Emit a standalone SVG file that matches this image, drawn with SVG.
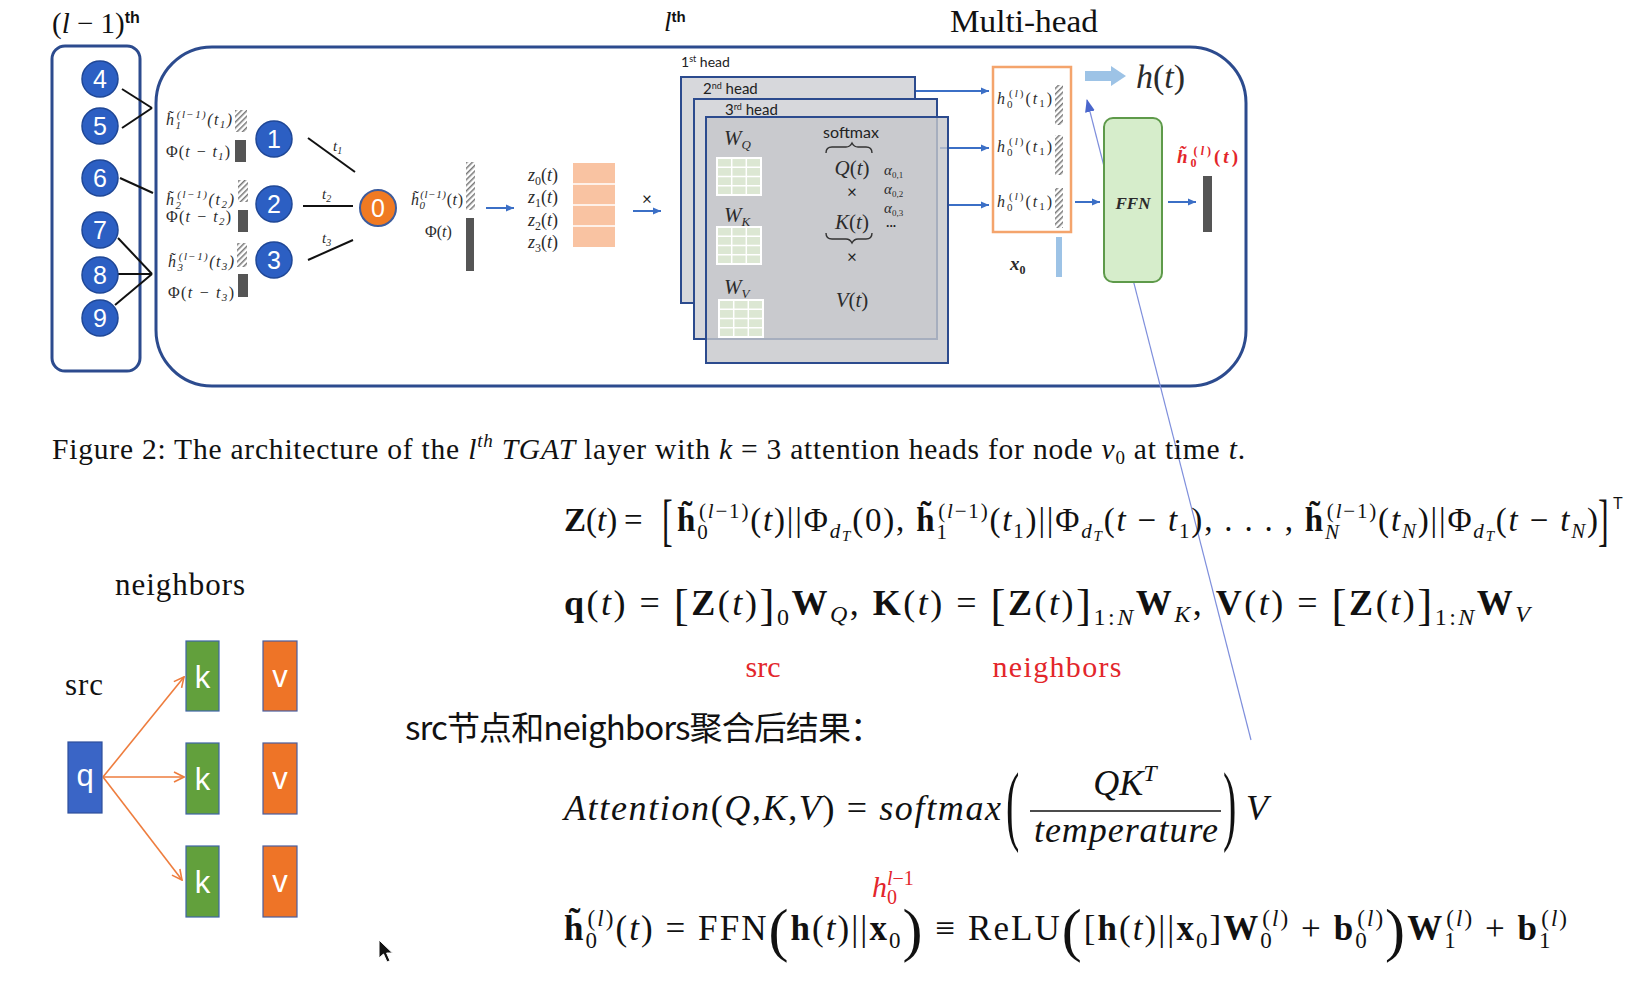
<svg xmlns="http://www.w3.org/2000/svg" width="1638" height="984" viewBox="0 0 1638 984">
<defs>
<style>
.tx{font-family:"Liberation Serif","Times New Roman",serif;fill:#111}
.b{font-weight:700}
.i{font-style:italic}
.lb{font-family:"Liberation Serif","Times New Roman",serif;font-style:italic;fill:#2b2b2b}
.sf{font-family:"Lato","Liberation Sans",sans-serif;fill:#222}
.num{font-family:"Liberation Sans",Arial,sans-serif;font-size:25px;fill:#fff;text-anchor:middle}
.node{fill:#2c5fc3;stroke:#1f4796;stroke-width:1.5}
.edge{stroke:#111;stroke-width:2;fill:none}
.barrow{stroke:#3b6fc6;stroke-width:2;fill:none;marker-end:url(#ab)}
.oarrow{stroke:#ee7d3e;stroke-width:1.6;fill:none;marker-end:url(#ao)}
.hatch{fill:url(#hp)}
.dark{fill:#555}
.head{fill:#d7d8dc;stroke:#2c4b8e;stroke-width:2}
.box{fill:none;stroke:#2c4b8e;stroke-width:3}
.let{font-family:"Liberation Sans",Arial,sans-serif;font-size:31px;fill:#fff;text-anchor:middle}
.red{fill:#e3262b}
</style>
<pattern id="hp" width="4" height="4" patternUnits="userSpaceOnUse" patternTransform="rotate(45)"><rect width="4" height="4" fill="#fff"/><rect width="1.5" height="4" fill="#777"/></pattern>
<marker id="ab" markerUnits="userSpaceOnUse" markerWidth="9" markerHeight="8" refX="8" refY="4" orient="auto"><path d="M0,0.5 L8,4 L0,7.5 z" fill="#3b6fc6"/></marker>
<marker id="ao" markerUnits="userSpaceOnUse" markerWidth="12" markerHeight="12" refX="11" refY="6" orient="auto"><path d="M1,1 L11,6 L1,11" fill="none" stroke="#ee7d3e" stroke-width="1.6"/></marker>
<marker id="athin" markerUnits="userSpaceOnUse" markerWidth="14" markerHeight="10" refX="12" refY="5" orient="auto"><path d="M0,0 L13,5 L0,10 z" fill="#4a66cc"/></marker>
<g id="grid"><rect width="44" height="37" fill="#dce7d3"/><path d="M14.7,0V37M29.3,0V37M0,9.25H44M0,18.5H44M0,27.75H44" stroke="#fff" stroke-width="1.5"/><rect width="44" height="37" fill="none" stroke="#fff" stroke-width="2"/></g>
</defs>
<rect width="1638" height="984" fill="#fff"/>

<!-- titles -->
<text class="tx" x="52" y="33" font-size="29">(<tspan class="i">l</tspan> − 1)<tspan font-family="Liberation Sans,Arial,sans-serif" font-size="16" font-weight="700" baseline-shift="10">th</tspan></text>
<text class="tx" x="664" y="31" font-size="27"><tspan class="i">l</tspan><tspan font-family="Liberation Sans,Arial,sans-serif" font-size="15" font-weight="700" baseline-shift="9">th</tspan></text>
<text class="tx" x="950" y="32" font-size="32" textLength="148" lengthAdjust="spacingAndGlyphs">Multi-head</text>

<!-- containers -->
<rect class="box" x="52" y="46" width="88" height="325" rx="13"/>
<rect class="box" x="156" y="47" width="1090" height="339" rx="56"/>

<g id="connectors">
<line class="edge" x1="122" y1="89" x2="152" y2="108"/>
<line class="edge" x1="122" y1="128" x2="152" y2="108"/>
<line class="edge" x1="120" y1="178" x2="153" y2="193"/>
<line class="edge" x1="118" y1="238" x2="152" y2="274"/>
<line class="edge" x1="118" y1="274" x2="152" y2="274"/>
<line class="edge" x1="115" y1="305" x2="152" y2="274"/>
<line class="edge" x1="308" y1="138" x2="355" y2="172"/>
<line class="edge" x1="303" y1="206" x2="353" y2="206"/>
<line class="edge" x1="308" y1="260" x2="353" y2="240"/>
<line class="barrow" x1="486" y1="208" x2="514" y2="208"/>
<line class="barrow" x1="633" y1="211" x2="661" y2="211"/>
<line class="barrow" x1="778" y1="167" x2="804" y2="167"/>
<line class="barrow" x1="778" y1="227" x2="804" y2="227"/>
<line class="barrow" x1="778" y1="298" x2="804" y2="298"/>
<line class="barrow" x1="915" y1="91" x2="989" y2="91"/>
<line class="barrow" x1="940" y1="148" x2="989" y2="148"/>
<line class="barrow" x1="948" y1="205" x2="989" y2="205"/>
<line class="barrow" x1="1075" y1="202" x2="1100" y2="202"/>
<line class="barrow" x1="1168" y1="202" x2="1196" y2="202"/>
<polygon points="1085,71 1111,71 1111,66 1126,76 1111,86 1111,81 1085,81" fill="#9dc3e6"/>
<line x1="1251" y1="740" x2="1087" y2="100" stroke="#7f8fdc" stroke-width="1.2" marker-end="url(#athin)"/>
<line class="oarrow" x1="103" y1="777" x2="184" y2="677"/>
<line class="oarrow" x1="103" y1="777" x2="184" y2="777"/>
<line class="oarrow" x1="103" y1="777" x2="182" y2="880"/>
</g>

<!-- (l-1) layer nodes -->
<g id="n4"><circle class="node" cx="100" cy="79" r="18"/><text class="num" x="100" y="88">4</text></g>
<g id="n5"><circle class="node" cx="100" cy="126" r="18"/><text class="num" x="100" y="135">5</text></g>
<g id="n6"><circle class="node" cx="100" cy="178" r="18"/><text class="num" x="100" y="187">6</text></g>
<g id="n7"><circle class="node" cx="100" cy="230" r="18"/><text class="num" x="100" y="239">7</text></g>
<g id="n8"><circle class="node" cx="100" cy="275" r="18"/><text class="num" x="100" y="284">8</text></g>
<g id="n9"><circle class="node" cx="100" cy="318" r="18"/><text class="num" x="100" y="327">9</text></g>

<!-- neighbor features -->
<g id="feat1">
<text class="lb" x="166" y="125" font-size="16" textLength="66">h̃<tspan font-size="11" baseline-shift="-4">1</tspan><tspan font-size="11" dx="-5.5" baseline-shift="7">(l−1)</tspan>(t<tspan font-size="11" baseline-shift="-3">1</tspan>)</text>
<rect class="hatch" x="235" y="110" width="12" height="22"/>
<text class="lb" x="166" y="157" font-size="16" textLength="64"><tspan font-style="normal">Φ(</tspan>t − t<tspan font-size="11" baseline-shift="-3">1</tspan><tspan font-style="normal">)</tspan></text>
<rect class="dark" x="235" y="140" width="11" height="22"/>
</g>
<g id="feat2">
<text class="lb" x="166" y="205" font-size="16" textLength="68">h̃<tspan font-size="11" baseline-shift="-4">2</tspan><tspan font-size="11" dx="-5.5" baseline-shift="7">(l−1)</tspan>(t<tspan font-size="11" baseline-shift="-3">2</tspan>)</text>
<rect class="hatch" x="238" y="180" width="10" height="22"/>
<text class="lb" x="166" y="222" font-size="16" textLength="65"><tspan font-style="normal">Φ(</tspan>t − t<tspan font-size="11" baseline-shift="-3">2</tspan><tspan font-style="normal">)</tspan></text>
<rect class="dark" x="238" y="210" width="10" height="22"/>
</g>
<g id="feat3">
<text class="lb" x="168" y="267" font-size="16" textLength="66">h̃<tspan font-size="11" baseline-shift="-4">3</tspan><tspan font-size="11" dx="-5.5" baseline-shift="7">(l−1)</tspan>(t<tspan font-size="11" baseline-shift="-3">3</tspan>)</text>
<rect class="hatch" x="237" y="243" width="10" height="24"/>
<text class="lb" x="168" y="298" font-size="16" textLength="66"><tspan font-style="normal">Φ(</tspan>t − t<tspan font-size="11" baseline-shift="-3">3</tspan><tspan font-style="normal">)</tspan></text>
<rect class="dark" x="238" y="274" width="10" height="23"/>
</g>

<!-- layer l nodes -->
<g id="n1"><circle class="node" cx="274" cy="139" r="18"/><text class="num" x="274" y="148">1</text></g>
<g id="n2"><circle class="node" cx="274" cy="204" r="18"/><text class="num" x="274" y="213">2</text></g>
<g id="n3"><circle class="node" cx="274" cy="260" r="18"/><text class="num" x="274" y="269">3</text></g>
<text class="lb" x="333" y="151" font-size="15">t<tspan font-size="10" baseline-shift="-3">1</tspan></text>
<text class="lb" x="322" y="199" font-size="15">t<tspan font-size="10" baseline-shift="-3">2</tspan></text>
<text class="lb" x="322" y="243" font-size="15">t<tspan font-size="10" baseline-shift="-3">3</tspan></text>
<g id="n0"><circle cx="378" cy="208" r="18" fill="#f07a22" stroke="#3d5c9c" stroke-width="2"/><text class="num" x="378" y="217">0</text></g>

<g id="feat0">
<text class="lb" x="411" y="205" font-size="16" textLength="52">h̃<tspan font-size="11" baseline-shift="-4">0</tspan><tspan font-size="11" dx="-5.5" baseline-shift="7">(l−1)</tspan><tspan font-style="normal">(</tspan>t<tspan font-style="normal">)</tspan></text>
<rect class="hatch" x="466" y="162" width="9" height="48"/>
<text class="lb" x="425" y="237" font-size="16"><tspan font-style="normal">Φ(</tspan>t<tspan font-style="normal">)</tspan></text>
<rect class="dark" x="466" y="218" width="8" height="53"/>
</g>

<g id="zmatrix">
<text class="lb" x="528" y="181" font-size="18">z<tspan font-size="12" baseline-shift="-4" font-style="normal">0</tspan><tspan font-style="normal">(</tspan>t<tspan font-style="normal">)</tspan></text>
<text class="lb" x="528" y="203" font-size="18">z<tspan font-size="12" baseline-shift="-4" font-style="normal">1</tspan><tspan font-style="normal">(</tspan>t<tspan font-style="normal">)</tspan></text>
<text class="lb" x="528" y="226" font-size="18">z<tspan font-size="12" baseline-shift="-4" font-style="normal">2</tspan><tspan font-style="normal">(</tspan>t<tspan font-style="normal">)</tspan></text>
<text class="lb" x="528" y="248" font-size="18">z<tspan font-size="12" baseline-shift="-4" font-style="normal">3</tspan><tspan font-style="normal">(</tspan>t<tspan font-style="normal">)</tspan></text>
<rect x="573" y="163" width="42" height="84" fill="#f9c3a2"/>
<path d="M573,184H615M573,205H615M573,226H615" stroke="#fff" stroke-width="1.5"/>
<text class="sf" x="647" y="205" font-size="17" text-anchor="middle">×</text>
</g>

<!-- heads -->
<g id="head1">
<text class="sf" x="681" y="67" font-size="14">1<tspan font-size="9" baseline-shift="5">st</tspan> head</text>
<rect class="head" x="681" y="77" width="234" height="226"/>
</g>
<g id="head2">
<text class="sf" x="703" y="94" font-size="15">2<tspan font-size="9" baseline-shift="5">nd</tspan>  head</text>
<rect class="head" x="694" y="99" width="243" height="240"/>
</g>
<g id="head3">
<text class="sf" x="725" y="115" font-size="15">3<tspan font-size="9" baseline-shift="5">rd</tspan> head</text>
<rect x="706" y="117" width="242" height="246" fill="#c6c7cb" fill-opacity="0.8" stroke="#2c4b8e" stroke-width="2"/>
<text class="lb" x="724" y="145" font-size="21">W<tspan font-size="13" baseline-shift="-4">Q</tspan></text>
<use href="#grid" x="717" y="158"/>
<text class="lb" x="724" y="222" font-size="21">W<tspan font-size="13" baseline-shift="-4">K</tspan></text>
<use href="#grid" x="717" y="227"/>
<text class="lb" x="724" y="294" font-size="21">W<tspan font-size="13" baseline-shift="-4">V</tspan></text>
<use href="#grid" x="719" y="300"/>
<text class="sf" x="851" y="138" font-size="16" text-anchor="middle">softmax</text>
<path d="M826,153 Q826,147 832,147 L846,147 Q850,147 852,143 Q854,147 858,147 L866,147 Q872,147 872,153" fill="none" stroke="#333" stroke-width="1.4"/>
<text class="lb" x="852" y="175" font-size="21" text-anchor="middle">Q<tspan font-style="normal">(</tspan>t<tspan font-style="normal">)</tspan></text>
<text class="sf" x="852" y="198" font-size="17" text-anchor="middle">×</text>
<text class="lb" x="852" y="229" font-size="21" text-anchor="middle">K<tspan font-style="normal">(</tspan>t<tspan font-style="normal">)</tspan></text>
<path d="M826,233 Q826,239 832,239 L846,239 Q850,239 852,243 Q854,239 858,239 L866,239 Q872,239 872,233" fill="none" stroke="#333" stroke-width="1.4"/>
<text class="sf" x="852" y="263" font-size="17" text-anchor="middle">×</text>
<text class="lb" x="852" y="307" font-size="21" text-anchor="middle">V<tspan font-style="normal">(</tspan>t<tspan font-style="normal">)</tspan></text>
<text class="lb" x="884" y="175" font-size="15" fill="#555">α<tspan font-size="9" font-style="normal" baseline-shift="-3">0,1</tspan></text>
<text class="lb" x="884" y="194" font-size="15" fill="#555">α<tspan font-size="9" font-style="normal" baseline-shift="-3">0,2</tspan></text>
<text class="lb" x="884" y="213" font-size="15" fill="#555">α<tspan font-size="9" font-style="normal" baseline-shift="-3">0,3</tspan></text>
<text class="sf" x="886" y="230" font-size="13" fill="#555">···</text>
</g>

<g id="concat">
<rect x="993" y="67" width="78" height="165" fill="#fff" stroke="#f4a46c" stroke-width="2.5"/>
<text class="lb" x="997" y="104" font-size="16" textLength="55">h<tspan font-size="11" font-style="normal" baseline-shift="-4">0</tspan><tspan font-size="11" dx="-5.5" baseline-shift="7"><tspan font-style="normal">(</tspan>l<tspan font-style="normal">)</tspan></tspan><tspan font-style="normal">(</tspan>t<tspan font-size="11" font-style="normal" baseline-shift="-3">1</tspan><tspan font-style="normal">)</tspan></text>
<text class="lb" x="997" y="152" font-size="16" textLength="55">h<tspan font-size="11" font-style="normal" baseline-shift="-4">0</tspan><tspan font-size="11" dx="-5.5" baseline-shift="7"><tspan font-style="normal">(</tspan>l<tspan font-style="normal">)</tspan></tspan><tspan font-style="normal">(</tspan>t<tspan font-size="11" font-style="normal" baseline-shift="-3">1</tspan><tspan font-style="normal">)</tspan></text>
<text class="lb" x="997" y="207" font-size="16" textLength="55">h<tspan font-size="11" font-style="normal" baseline-shift="-4">0</tspan><tspan font-size="11" dx="-5.5" baseline-shift="7"><tspan font-style="normal">(</tspan>l<tspan font-style="normal">)</tspan></tspan><tspan font-style="normal">(</tspan>t<tspan font-size="11" font-style="normal" baseline-shift="-3">1</tspan><tspan font-style="normal">)</tspan></text>
<rect class="hatch" x="1055" y="85" width="8" height="40"/>
<rect class="hatch" x="1055" y="135" width="8" height="40"/>
<rect class="hatch" x="1055" y="188" width="8" height="40"/>
<rect x="1056" y="237" width="6" height="40" fill="#9dc3e6"/>
<text class="lb b" x="1010" y="270" font-size="19">x<tspan font-size="12" font-style="normal" baseline-shift="-4">0</tspan></text>
</g>

<text class="lb" x="1136" y="88" font-size="34" fill="#111">h<tspan font-style="normal">(</tspan>t<tspan font-style="normal">)</tspan></text>

<g id="ffn">
<rect x="1104" y="118" width="58" height="164" rx="9" fill="#d6edcb" stroke="#5e9a4a" stroke-width="2"/>
<text class="lb b" x="1133" y="209" font-size="17" text-anchor="middle">FFN</text>
</g>
<g id="out">
<text class="lb b red" x="1177" y="163" font-size="19" textLength="61">h̃<tspan font-size="12" font-style="normal" baseline-shift="-4">0</tspan><tspan font-size="12" dx="-6" baseline-shift="8"><tspan font-style="normal">(</tspan>l<tspan font-style="normal">)</tspan></tspan><tspan font-style="normal">(</tspan>t<tspan font-style="normal">)</tspan></text>
<rect class="dark" x="1203" y="176" width="9" height="56"/>
</g>

<!-- caption -->
<text class="tx" x="52" y="459" font-size="29.5" textLength="1193" lengthAdjust="spacing">Figure 2: The architecture of the <tspan class="i">l</tspan><tspan class="i" font-size="19" baseline-shift="12">th</tspan> <tspan class="i">TGAT</tspan> layer with <tspan class="i">k</tspan> = 3 attention heads for node <tspan class="i">v</tspan><tspan font-size="19" baseline-shift="-5">0</tspan> at time <tspan class="i">t</tspan>.</text>

<!-- formula Z -->
<g id="eqZ">
<text class="tx" x="564" y="531" font-size="33"><tspan class="b">Z</tspan>(<tspan class="i">t</tspan>)<tspan x="624">=</tspan></text>
<text class="tx" font-size="32" transform="translate(662,539) scale(1,1.8)">[</text>
<text class="tx" x="677" y="531" font-size="33" textLength="921" lengthAdjust="spacing"><tspan class="b">h̃</tspan><tspan font-size="21" baseline-shift="-8">0</tspan><tspan font-size="21" dx="-10.5" baseline-shift="13">(<tspan class="i">l</tspan>−1)</tspan>(<tspan class="i">t</tspan>)||Φ<tspan font-size="21" baseline-shift="-7"><tspan class="i">d</tspan><tspan class="i" font-size="15" baseline-shift="-3">T</tspan></tspan>(0), <tspan class="b">h̃</tspan><tspan font-size="21" baseline-shift="-8">1</tspan><tspan font-size="21" dx="-10.5" baseline-shift="13">(<tspan class="i">l</tspan>−1)</tspan>(<tspan class="i">t</tspan><tspan font-size="21" baseline-shift="-7">1</tspan>)||Φ<tspan font-size="21" baseline-shift="-7"><tspan class="i">d</tspan><tspan class="i" font-size="15" baseline-shift="-3">T</tspan></tspan>(<tspan class="i">t</tspan> − <tspan class="i">t</tspan><tspan font-size="21" baseline-shift="-7">1</tspan>), . . . , <tspan class="b">h̃</tspan><tspan class="i" font-size="21" baseline-shift="-8">N</tspan><tspan font-size="21" dx="-14" baseline-shift="13">(<tspan class="i">l</tspan>−1)</tspan>(<tspan class="i">t</tspan><tspan class="i" font-size="21" baseline-shift="-7">N</tspan>)||Φ<tspan font-size="21" baseline-shift="-7"><tspan class="i">d</tspan><tspan class="i" font-size="15" baseline-shift="-3">T</tspan></tspan>(<tspan class="i">t</tspan> − <tspan class="i">t</tspan><tspan class="i" font-size="21" baseline-shift="-7">N</tspan>)</text>
<text class="tx" font-size="32" transform="translate(1598,539) scale(1,1.8)">]</text>
<text x="1613" y="509" font-family="Liberation Sans,Arial,sans-serif" font-size="16" fill="#111">T</text>
</g>

<!-- formula qKV -->
<g id="eqQKV">
<text class="tx" x="564" y="615" font-size="36" textLength="966" lengthAdjust="spacing"><tspan class="b">q</tspan>(<tspan class="i">t</tspan>) = <tspan font-size="45" baseline-shift="-5">[</tspan><tspan class="b">Z</tspan>(<tspan class="i">t</tspan>)<tspan font-size="45" baseline-shift="-5">]</tspan><tspan font-size="24" baseline-shift="-10">0</tspan><tspan class="b">W</tspan><tspan class="i" font-size="24" baseline-shift="-7">Q</tspan>, <tspan class="b">K</tspan>(<tspan class="i">t</tspan>) = <tspan font-size="45" baseline-shift="-5">[</tspan><tspan class="b">Z</tspan>(<tspan class="i">t</tspan>)<tspan font-size="45" baseline-shift="-5">]</tspan><tspan font-size="24" baseline-shift="-10">1:<tspan class="i">N</tspan></tspan><tspan class="b">W</tspan><tspan class="i" font-size="24" baseline-shift="-7">K</tspan>, <tspan class="b">V</tspan>(<tspan class="i">t</tspan>) = <tspan font-size="45" baseline-shift="-5">[</tspan><tspan class="b">Z</tspan>(<tspan class="i">t</tspan>)<tspan font-size="45" baseline-shift="-5">]</tspan><tspan font-size="24" baseline-shift="-10">1:<tspan class="i">N</tspan></tspan><tspan class="b">W</tspan><tspan class="i" font-size="24" baseline-shift="-7">V</tspan></text>
<text class="tx red" x="763" y="677" font-size="30" text-anchor="middle">src</text>
<text class="tx red" x="1057" y="677" font-size="30" text-anchor="middle" textLength="129">neighbors</text>
</g>

<!-- Chinese line -->
<text x="405" y="740" font-family="Noto Sans CJK SC,Noto Sans,sans-serif" font-size="33" fill="#111" textLength="478" lengthAdjust="spacing">src节点和neighbors聚合后结果：</text>

<!-- attention formula -->
<g id="eqAtt">
<text class="tx" x="564" y="820" font-size="36" textLength="437" lengthAdjust="spacing"><tspan class="i">Attention</tspan>(<tspan class="i">Q</tspan>,<tspan class="i">K</tspan>,<tspan class="i">V</tspan>) = <tspan class="i">softmax</tspan></text>
<text class="tx" font-size="40" transform="translate(1006,834) scale(1,2.2)">(</text>
<text class="tx i" x="1125" y="795" font-size="36" text-anchor="middle">QK<tspan font-size="24" baseline-shift="14">T</tspan></text>
<line x1="1030" y1="811" x2="1221" y2="811" stroke="#111" stroke-width="1.6"/>
<text class="tx i" x="1126" y="842" font-size="36" text-anchor="middle" textLength="184" lengthAdjust="spacing">temperature</text>
<text class="tx" font-size="40" transform="translate(1223,834) scale(1,2.2)">)</text>
<text class="tx i" x="1246" y="820" font-size="36">V</text>
</g>

<!-- FFN formula -->
<g id="eqFFN">
<text class="tx i red" x="872" y="897" font-size="30">h<tspan font-style="normal" font-size="20" baseline-shift="-7">0</tspan><tspan font-size="20" dx="-10" baseline-shift="12">l<tspan font-style="normal">−1</tspan></tspan></text>
<text class="tx" x="564" y="940" font-size="35" textLength="1003" lengthAdjust="spacing"><tspan class="b">h̃</tspan><tspan font-size="23" baseline-shift="-8">0</tspan><tspan font-size="23" dx="-11.5" baseline-shift="14">(<tspan class="i">l</tspan>)</tspan>(<tspan class="i">t</tspan>) = FFN<tspan font-size="60" baseline-shift="-10">(</tspan><tspan class="b">h</tspan>(<tspan class="i">t</tspan>)||<tspan class="b">x</tspan><tspan font-size="23" baseline-shift="-8">0</tspan><tspan font-size="60" baseline-shift="-10">)</tspan> ≡ ReLU<tspan font-size="60" baseline-shift="-10">(</tspan>[<tspan class="b">h</tspan>(<tspan class="i">t</tspan>)||<tspan class="b">x</tspan><tspan font-size="23" baseline-shift="-8">0</tspan>]<tspan class="b">W</tspan><tspan font-size="23" baseline-shift="-8">0</tspan><tspan font-size="23" dx="-11.5" baseline-shift="14">(<tspan class="i">l</tspan>)</tspan> + <tspan class="b">b</tspan><tspan font-size="23" baseline-shift="-8">0</tspan><tspan font-size="23" dx="-11.5" baseline-shift="14">(<tspan class="i">l</tspan>)</tspan><tspan font-size="60" baseline-shift="-10">)</tspan><tspan class="b">W</tspan><tspan font-size="23" baseline-shift="-8">1</tspan><tspan font-size="23" dx="-11.5" baseline-shift="14">(<tspan class="i">l</tspan>)</tspan> + <tspan class="b">b</tspan><tspan font-size="23" baseline-shift="-8">1</tspan><tspan font-size="23" dx="-11.5" baseline-shift="14">(<tspan class="i">l</tspan>)</tspan></text>
</g>

<!-- bottom-left q/k/v -->
<text class="tx" x="115" y="595" font-size="31" textLength="130">neighbors</text>
<text class="tx" x="65" y="695" font-size="31" textLength="38">src</text>
<g id="q"><rect x="68" y="742" width="34" height="71" fill="#3a65c6" stroke="#2e4f9c" stroke-width="1.2"/><text class="let" x="85" y="786">q</text></g>
<g id="k1"><rect x="186" y="641" width="33" height="70" fill="#62a03c" stroke="#3f64a6" stroke-width="1.2"/><text class="let" x="202.5" y="688">k</text></g>
<g id="k2"><rect x="186" y="743" width="33" height="71" fill="#62a03c" stroke="#3f64a6" stroke-width="1.2"/><text class="let" x="202.5" y="790">k</text></g>
<g id="k3"><rect x="186" y="846" width="33" height="71" fill="#62a03c" stroke="#3f64a6" stroke-width="1.2"/><text class="let" x="202.5" y="893">k</text></g>
<g id="v1"><rect x="263" y="641" width="34" height="70" fill="#ee7427" stroke="#4a5e9e" stroke-width="1.2"/><text class="let" x="280" y="687">v</text></g>
<g id="v2"><rect x="263" y="743" width="34" height="71" fill="#ee7427" stroke="#4a5e9e" stroke-width="1.2"/><text class="let" x="280" y="789">v</text></g>
<g id="v3"><rect x="263" y="846" width="34" height="71" fill="#ee7427" stroke="#4a5e9e" stroke-width="1.2"/><text class="let" x="280" y="892">v</text></g>

<!-- cursor -->
<path d="M379,940 L379,958 L383.5,954 L387,962 L390,960.7 L386.6,953 L392.5,953 Z" fill="#111" stroke="#fff" stroke-width="1"/>
</svg>
